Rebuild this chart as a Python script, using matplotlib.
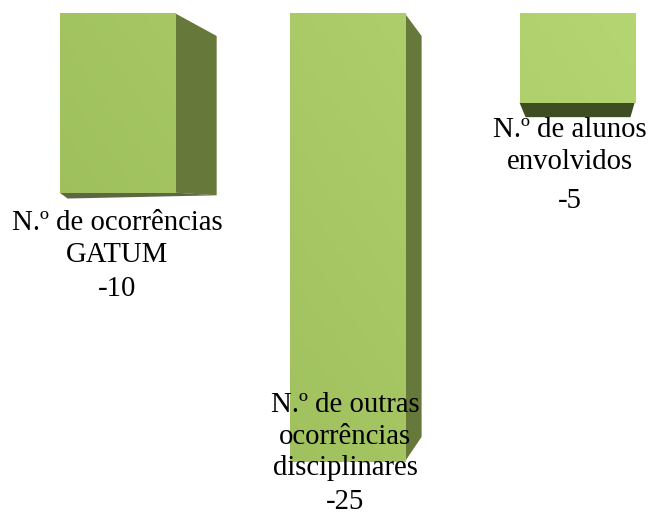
import matplotlib
matplotlib.use("Agg")
import matplotlib.pyplot as plt
import numpy as np
from matplotlib.patches import Polygon
from matplotlib.colors import LinearSegmentedColormap

categories = ["N.º de ocorrências\nGATUM",
              "N.º de outras\nocorrências\ndisciplinares",
              "N.º de alunos\nenvolvidos"]
values = [-10, -25, -5]

FRONT_LIGHT = "#b6d673"
FRONT_DARK = "#96b755"
SIDE = "#66793a"
BOTTOM = "#3f4d22"

plt.rcParams["font.family"] = ["Liberation Serif", "DejaVu Serif"]

fig = plt.figure(figsize=(6.53, 5.15), dpi=100)
ax = fig.add_axes([0, 0, 1, 1])
XLIM = (-0.509, 2.33)
YLIM = (-27.95, 0.724)
ax.set_xlim(*XLIM)
ax.set_ylim(*YLIM)
ax.axis("off")

width = 0.5
x = np.arange(len(values))
bars = ax.bar(x, values, width=width, color="none", edgecolor="none")

# soft gradient on the front faces, lighter to the upper right
cmap = LinearSegmentedColormap.from_list("g", [FRONT_DARK, FRONT_LIGHT])
gx, gy = np.meshgrid(np.linspace(0, 1, 200), np.linspace(0, 1, 200))
grad = 0.65 * gx + 0.35 * gy
for b in bars:
    im = ax.imshow(grad, cmap=cmap, extent=(*XLIM, *YLIM),
                   origin="lower", aspect="auto", zorder=2)
    im.set_clip_path(b)

# fake 3D faces (offsets per bar in data units)
side_dx = [0.183, 0.074, 0.0]
side_dy = [1.28, 1.28, 0.0]
side_bot = [-0.15, 1.4, 0.0]
for b, dx, dy, db in zip(bars, side_dx, side_dy, side_bot):
    x0 = b.get_x()
    x1 = x0 + b.get_width()
    y1 = b.get_height()
    if dx > 0:
        ax.add_patch(Polygon([(x1, 0), (x1 + dx, -dy), (x1 + dx, y1 + db), (x1, y1)],
                             closed=True, fc=SIDE, ec="none", zorder=1))
    if db < 0:
        ax.add_patch(Polygon([(x0, y1), (x1, y1), (x1 + dx, y1 + db),
                              (x0 + 0.035, y1 + 2.2 * db)],
                             closed=True, fc=BOTTOM, ec="none", alpha=0.85, zorder=1))

# bottom face of the short bar
b = bars[2]
x0 = b.get_x()
x1 = x0 + b.get_width()
y1 = b.get_height()
ax.add_patch(Polygon([(x0, y1), (x1, y1), (x1 - 0.018, y1 - 0.8), (x0 + 0.026, y1 - 0.8)],
                     closed=True, fc=BOTTOM, ec="none", zorder=1))

# data labels: (x centre, first baseline, value baseline)
label_pos = [(0.0, -12.08, -15.75), (0.991, -22.22, -27.6), (1.97, -6.90, -10.86)]
LINE_STEP = 1.76
for (lx, ly, vy), cat, v in zip(label_pos, categories, values):
    for i, line in enumerate(cat.split("\n")):
        ax.text(lx, ly - i * LINE_STEP, line, ha="center", va="baseline",
                fontsize=20.7, color="black", zorder=5)
    ax.text(lx, vy, str(v), ha="center", va="baseline",
            fontsize=20.7, color="black", zorder=5)

fig.savefig("out.png", dpi=100)
